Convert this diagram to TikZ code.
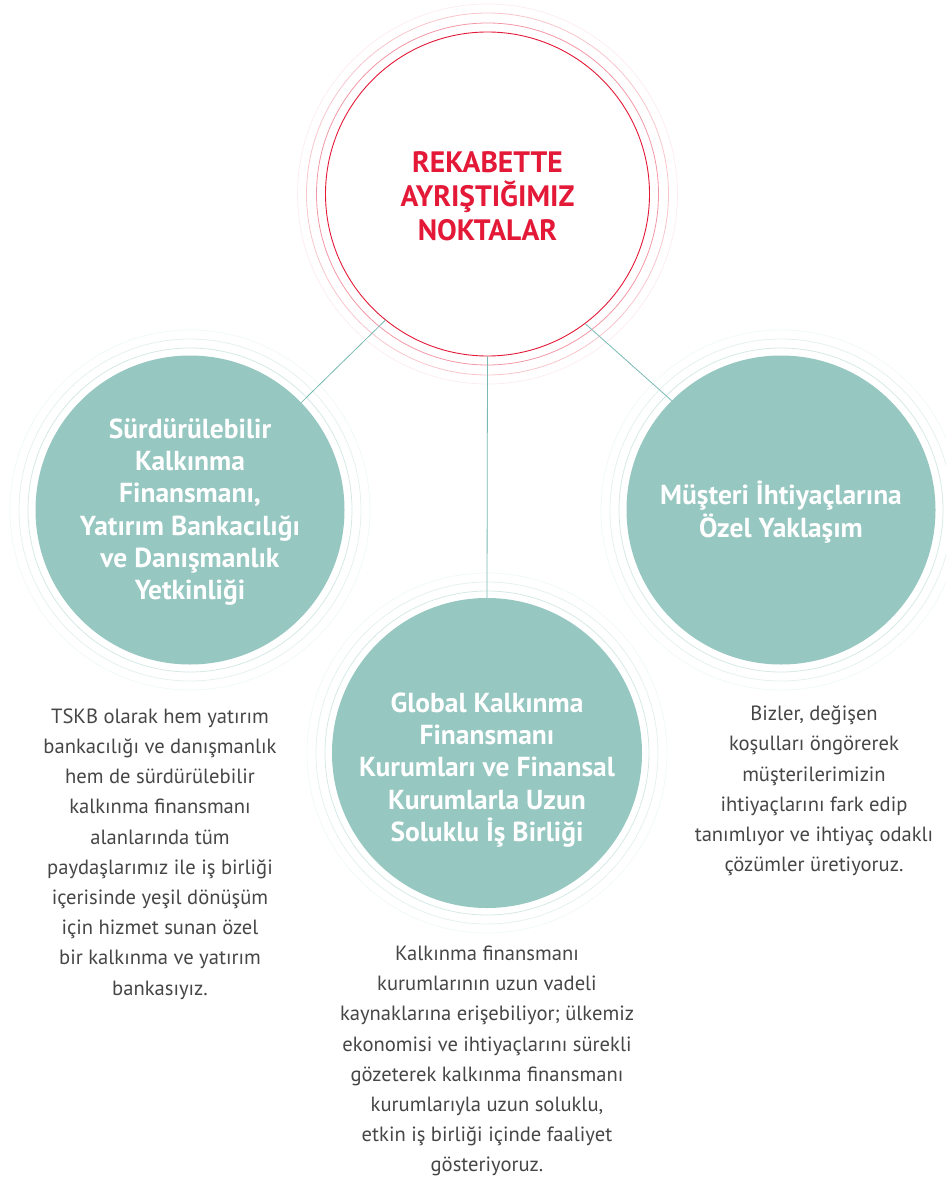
\documentclass[tikz,border=0pt]{standalone}
\usepackage{fontspec}
\setmainfont{PT Sans}
\definecolor{teal1}{RGB}{150,199,193}
\definecolor{tealline}{RGB}{120,185,178}
\definecolor{redmain}{RGB}{227,25,55}
\definecolor{bodygray}{RGB}{70,70,70}
\tikzset{
  redcircle/.style={circle, draw=redmain, line width=0.9pt, fill=white, inner sep=0pt, minimum size=324pt},
  tealcircle/.style={circle, fill=teal1, inner sep=0pt, minimum size=309pt},
  ringA/.style={line width=0.8pt},
  heading/.style={text=white, align=center, font=\fontsize{27.5}{32.3}\selectfont\bfseries},
  title/.style={text=redmain, align=center, font=\fontsize{29.5}{34}\selectfont\bfseries},
  body/.style={text=bodygray, align=center, font=\fontsize{20.6}{30.2}\selectfont},
  link/.style={draw=tealline, line width=0.8pt}
}
\begin{document}
\begin{tikzpicture}[x=1pt,y=-1pt]
\useasboundingbox (0,0) rectangle (945,1182);
% rings
\foreach \cx/\cy in {190/510, 781/510, 487/753}{
  \draw[ringA, draw=teal1!40] (\cx,\cy) circle (162);
  \draw[ringA, draw=teal1!25] (\cx,\cy) circle (171);
  \draw[ringA, draw=teal1!12] (\cx,\cy) circle (180);
}
\draw[ringA, draw=redmain!45] (487.5,194) circle (171);
\draw[ringA, draw=redmain!25] (487.5,194) circle (181);
\draw[ringA, draw=redmain!8] (487.5,194) circle (190);
% main circles
\node[redcircle] (top) at (487.5,194) {};
\node[tealcircle] (left) at (190,510) {};
\node[tealcircle] (right) at (781,510) {};
\node[tealcircle, minimum size=310pt] (mid) at (487,753) {};
% connectors
\draw[link] (top.231.7) -- (left.44.2);
\draw[link] (top.307.9) -- (right.135.3);
\draw[link] (top.south) -- (mid.north);
% texts
\node[title] (ttl) at (487.5,196) {REKABETTE\\AYRIŞTIĞIMIZ\\NOKTALAR};
\node[heading] (lh) at (190,512) {Sürdürülebilir\\Kalkınma\\Finansmanı,\\Yatırım Bankacılığı\\ve Danışmanlık\\Yetkinliği};
\node[heading] (rh) at (781,512) {Müşteri İhtiyaçlarına\\Özel Yaklaşım};
\node[heading] (mh) at (487,770) {Global Kalkınma\\Finansmanı\\Kurumları ve Finansal\\Kurumlarla Uzun\\Soluklu İş Birliği};
\node[body] (lb) at (160,854) {TSKB olarak hem yatırım\\bankacılığı ve danışmanlık\\hem de sürdürülebilir\\kalkınma finansmanı\\alanlarında tüm\\paydaşlarımız ile iş birliği\\içerisinde yeşil dönüşüm\\için hizmet sunan özel\\bir kalkınma ve yatırım\\bankasıyız.};
\node[body] (rb) at (814,791) {Bizler, değişen\\koşulları öngörerek\\müşterilerimizin\\ihtiyaçlarını fark edip\\tanımlıyor ve ihtiyaç odaklı\\çözümler üretiyoruz.};
\node[body] (mb) at (487,1061) {Kalkınma finansmanı\\kurumlarının uzun vadeli\\kaynaklarına erişebiliyor; ülkemiz\\ekonomisi ve ihtiyaçlarını sürekli\\gözeterek kalkınma finansmanı\\kurumlarıyla uzun soluklu,\\etkin iş birliği içinde faaliyet\\gösteriyoruz.};
\end{tikzpicture}
\end{document}
